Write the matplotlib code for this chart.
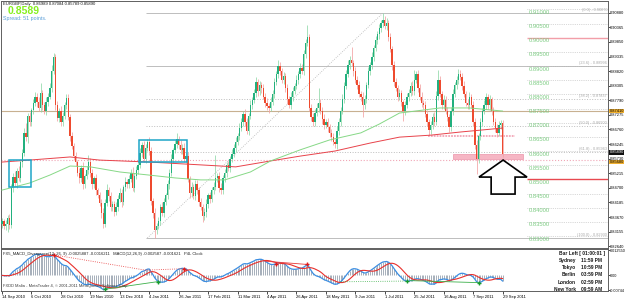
import numpy as np
import pandas as pd
import matplotlib
matplotlib.use('Agg')
import matplotlib.pyplot as plt
import matplotlib.transforms as mtrans
from matplotlib.patches import Rectangle, Polygon

plt.rcParams['font.family'] = ['Liberation Sans', 'DejaVu Sans']

# ---- data (prices in points, 1 point = 0.0001) ----
first_open = 8342
closes = [
    8352, 8334, 8341, 8363, 8338, 8472, 8510, 8488, 8531, 8505,
    8561, 8592, 8664, 8648, 8722, 8701, 8743, 8768, 8791, 8772,
    8752, 8803, 8762, 8741, 8774, 8792, 8824, 8883, 8931, 8762,
    8718, 8742, 8703, 8724, 8763, 8787, 8721, 8652, 8618, 8583,
    8561, 8522, 8503, 8541, 8484, 8512, 8533, 8562, 8521, 8482,
    8503, 8461, 8443, 8418, 8381, 8342, 8418, 8463, 8441, 8402,
    8412, 8383, 8404, 8432, 8452, 8421, 8472, 8491, 8483, 8502,
    8523, 8471, 8512, 8534, 8552, 8593, 8621, 8573, 8612, 8633,
    8601, 8423, 8381, 8322, 8334, 8352, 8401, 8382, 8421, 8443,
    8482, 8523, 8571, 8602, 8624, 8641, 8622, 8603, 8612, 8571,
    8583, 8502, 8451, 8472, 8441, 8483, 8462, 8421, 8402, 8371,
    8383, 8412, 8443, 8431, 8462, 8473, 8503, 8512, 8471, 8462,
    8503, 8521, 8552, 8541, 8572, 8591, 8612, 8633, 8652, 8681,
    8703, 8732, 8701, 8671, 8722, 8762, 8781, 8803, 8842, 8811,
    8833, 8821, 8792, 8771, 8758, 8752, 8773, 8802, 8843, 8872,
    8901, 8882, 8851, 8863, 8821, 8782, 8761, 8792, 8813, 8831,
    8852, 8871, 8893, 8882, 8942, 8983, 9002, 8752, 8721, 8702,
    8733, 8752, 8771, 8742, 8713, 8691, 8702, 8683, 8662, 8651,
    8632, 8623, 8671, 8703, 8742, 8783, 8831, 8872, 8903, 8921,
    8912, 8881, 8852, 8833, 8801, 8792, 8761, 8783, 8832, 8881,
    8902, 8933, 8962, 8991, 9012, 9033, 9051, 9062, 9041, 9052,
    9003, 8961, 8902, 8843, 8822, 8791, 8803, 8772, 8741, 8763,
    8792, 8803, 8831, 8812, 8852, 8871, 8823, 8792, 8771, 8762,
    8731, 8702, 8673, 8692, 8721, 8703, 8793, 8851, 8802, 8763,
    8781, 8742, 8721, 8683, 8742, 8801, 8832, 8851, 8872, 8862,
    8831, 8802, 8771, 8762, 8791, 8762, 8703, 8622, 8571, 8652,
    8702, 8741, 8762, 8791, 8762, 8783, 8741, 8703, 8682, 8663,
    8691, 8699, 8589,
]
upper_wick = [
    12, 9, 15, 11, 14, 10, 13, 18, 9, 16,
    12, 15, 16, 36, 11, 17, 9, 14, 17, 12,
    18, 37, 13, 10, 16, 12, 15, 20, 15, 10,
    14, 9, 18, 12, 11, 15, 13, 10, 16, 12,
    14, 9, 17, 11, 19, 8, 13, 24, 12, 15,
    10, 16, 9, 14, 11, 18, 12, 20, 9, 15,
    13, 10, 17, 12, 16, 14, 9, 18, 11, 15,
    12, 19, 10, 14, 13, 17, 11, 15, 12, 8,
    16, 14, 10, 18, 12, 15, 11, 20, 13, 9,
    14, 12, 17, 10, 15, 23, 11, 16, 13, 18,
    12, 15, 9, 17, 11, 14, 16, 10, 13, 12,
    15, 18, 10, 14, 12, 16, 83, 11, 13, 15,
    12, 17, 10, 14, 9, 16, 12, 15, 11, 18,
    13, 10, 16, 14, 12, 19, 11, 15, 20, 12,
    14, 10, 17, 12, 15, 11, 18, 13, 16, 12,
    19, 14, 10, 16, 12, 15, 11, 17, 13, 9,
    15, 12, 18, 14, 16, 13, 43, 10, 15, 12,
    14, 17, 50, 11, 13, 16, 10, 15, 12, 14,
    11, 9, 16, 13, 15, 18, 12, 14, 17, 13,
    45, 11, 15, 12, 14, 10, 16, 13, 12, 17,
    11, 15, 13, 16, 12, 14, 10, 25, 15, 18,
    12, 14, 10, 16, 13, 11, 15, 12, 9, 14,
    13, 16, 12, 15, 34, 11, 14, 12, 16, 10,
    13, 15, 11, 14, 12, 16, 18, 35, 13, 10,
    15, 12, 14, 11, 13, 17, 12, 15, 16, 14,
    12, 15, 10, 13, 18, 11, 14, 12, 16, 13,
    15, 12, 17, 14, 11, 16, 8, 13, 12, 15,
    14, 10, 9,
]
lower_wick = [
    14, 11, 13, 27, 12, 10, 15, 12, 17, 11,
    13, 16, 10, 12, 18, 11, 14, 13, 10, 15,
    12, 14, 17, 11, 13, 16, 10, 14, 12, 17,
    11, 15, 13, 16, 10, 14, 12, 18, 11, 15,
    13, 10, 16, 12, 18, 14, 11, 15, 13, 17,
    12, 15, 10, 13, 16, 14, 12, 11, 17, 13,
    15, 12, 10, 16, 13, 17, 11, 14, 12, 15,
    10, 13, 16, 12, 14, 11, 15, 13, 17, 12,
    14, 13, 18, 29, 15, 11, 14, 12, 16, 13,
    11, 15, 12, 14, 10, 13, 16, 12, 15, 11,
    14, 12, 17, 13, 10, 15, 12, 14, 11, 22,
    13, 16, 12, 15, 11, 14, 10, 13, 17, 12,
    15, 11, 14, 12, 16, 10, 13, 15, 12, 14,
    11, 16, 13, 12, 15, 10, 14, 13, 11, 16,
    12, 15, 10, 14, 13, 17, 11, 12, 15, 10,
    13, 14, 11, 16, 12, 15, 10, 13, 14, 11,
    12, 15, 13, 10, 14, 12, 11, 12, 16, 13,
    15, 11, 14, 12, 16, 13, 10, 15, 12, 14,
    11, 12, 16, 13, 15, 10, 14, 12, 11, 15,
    13, 16, 12, 14, 10, 15, 41, 12, 13, 11,
    14, 12, 15, 10, 13, 16, 12, 14, 11, 15,
    13, 12, 16, 14, 11, 15, 12, 13, 35, 14,
    12, 15, 10, 13, 14, 11, 16, 12, 15, 13,
    11, 14, 16, 12, 15, 13, 10, 14, 12, 16,
    13, 11, 15, 16, 12, 14, 10, 13, 15, 12,
    14, 11, 13, 12, 15, 10, 16, 14, 52, 12,
    13, 15, 11, 14, 12, 16, 13, 10, 14, 12,
    11, 13, 10,
]

date_labels = ['14 Sep 2010', '6 Oct 2010', '28 Oct 2010', '19 Nov 2010', '13 Dec 2010',
               '4 Jan 2011', '26 Jan 2011', '17 Feb 2011', '11 Mar 2011', '4 Apr 2011',
               '26 Apr 2011', '18 May 2011', '9 Jun 2011', '1 Jul 2011', '25 Jul 2011',
               '16 Aug 2011', '7 Sep 2011', '29 Sep 2011']
bars_per_label = 16

# moving averages
slow_ma_bars = [0, 15, 37, 53, 80, 108, 127, 146, 162, 181, 200, 216, 233, 249, 272]
slow_ma = [0.8561, 0.8568, 0.8579, 0.8568, 0.8561, 0.8551, 0.8544, 0.8565, 0.8582,
           0.8600, 0.8628, 0.8649, 0.8656, 0.8667, 0.8681]
fast_ma_bars = [0, 15, 26, 37, 48, 64, 80, 94, 108, 121, 135, 146, 162, 178, 195,
                205, 216, 238, 254, 272]
fast_ma = [0.8462, 0.8487, 0.8515, 0.8547, 0.8544, 0.8526, 0.8515, 0.8505, 0.8498,
           0.8498, 0.8526, 0.8565, 0.8604, 0.8639, 0.8664, 0.8695, 0.8734, 0.8752,
           0.8752, 0.8741]

price_ticks = [0.90880, 0.90365, 0.89850, 0.89335, 0.88820, 0.88305, 0.87790, 0.87275,
               0.86760, 0.86245, 0.85730, 0.85215, 0.84700, 0.84185, 0.83670, 0.83155,
               0.82640]
round_levels = [0.910, 0.905, 0.900, 0.895, 0.890, 0.885, 0.880, 0.875, 0.870, 0.865,
                0.860, 0.855, 0.850, 0.845, 0.840, 0.835, 0.830]
red_levels = [0.900, 0.850]
fib_ratios = [0.0, 23.6, 38.2, 50.0, 61.8, 100.0]
fib_low = (79, 0.8293)
fib_high = (207, 0.9087)
tan_line = 0.8741
pink_line = 0.8568
support_line = (231.5, 278.8, 0.8653)
zone = (245, 283, 0.8572, 0.8589)
boxes = [(3.8, 15.8, 0.8473, 0.8568), (74.5, 100.5, 0.8561, 0.8639)]
arrow_pts = [(272.3, 0.8568), (259.2, 0.8508), (265.8, 0.8508), (265.8, 0.8448),
             (278.8, 0.8448), (278.8, 0.8508), (285.3, 0.8508)]
bid = 0.8589

red_marks = [28, 99, 149, 166]
green_marks = [56, 85, 220, 259]
red_div = [(28, 78, ':'), (78, 99, ':'), (143, 166, '-')]
green_div = [(56, 85, '-'), (184, 220, ':'), (222, 259, '-')]

clock_rows = [('Sydney', '11:59 PM'), ('Tokyo', '10:59 PM'), ('Berlin', '03:59 PM'),
              ('London', '02:59 PM'), ('New York', '09:59 AM')]

# ---- build series ----
c = np.array(closes) / 1e4
o = np.r_[first_open / 1e4, c[:-1]]          # daily forex bars open at prior close
h = np.maximum(o, c) + np.array(upper_wick) / 1e4
l = np.minimum(o, c) - np.array(lower_wick) / 1e4
x = np.arange(len(c))

s = pd.Series(c)
macd = (s.ewm(span=12, adjust=False).mean() - s.ewm(span=26, adjust=False).mean()).values
signal = pd.Series(macd).rolling(9, min_periods=1).mean().values

W, H = 625, 300
fig = plt.figure(figsize=(W / 100, H / 100), dpi=100)
def fx(px): return px / W
def fy(py): return 1 - py / H

ax = fig.add_axes([fx(1), fy(247.5), fx(607), (247.5 - 1) / H])
ax2 = fig.add_axes([fx(1), fy(291), fx(607), 42 / H])
xlim = (-0.54, 329.3)

# candles
up = c >= o
ax.vlines(x[up], l[up], h[up], color='#8fd8a8', lw=0.55, zorder=3)
ax.vlines(x[~up], l[~up], h[~up], color='#f2a2a2', lw=0.55, zorder=3)
body = np.maximum(np.abs(c - o), 0.00012)
ax.bar(x[up], body[up], bottom=o[up], width=0.75, color='#22b07e', lw=0, zorder=4)
ax.bar(x[~up], body[~up], bottom=c[~up], width=0.75, color='#ee4a2e', lw=0, zorder=4)

ax.plot(slow_ma_bars, slow_ma, color='#e8424a', lw=0.7, zorder=5)
ax.plot(fast_ma_bars, fast_ma, color='#86d886', lw=0.7, zorder=5)

# horizontal lines
ax.axhline(tan_line, color='#c8b090', lw=0.8, zorder=2)
ax.axhline(pink_line, color='#f0a6b6', lw=0.8, ls=':', zorder=2)
ax.hlines(support_line[2], support_line[0], support_line[1], color='#f2a6b6', lw=1.3,
          ls=(0, (1, 0.6)), zorder=2)
ax.add_patch(Rectangle((zone[0], zone[2]), zone[1] - zone[0], zone[3] - zone[2],
                       facecolor='#f6b6c4', edgecolor='#ec94aa', lw=0.5, zorder=2))

# fibonacci
rng = fib_high[1] - fib_low[1]
ax.plot([fib_low[0], fib_high[0]], [fib_low[1], fib_high[1]], color='#b4b4b4', lw=0.6,
        ls=':', zorder=2)
for r in fib_ratios:
    p = fib_high[1] - rng * r / 100
    ls = '-' if r in (0.0, 23.6, 100.0) else ':'
    ax.hlines(p, fib_low[0] - 1, xlim[1], color='#bdbdbd', lw=0.7, ls=ls, zorder=2)
    ax.text(xlim[1] - 0.5, p + 0.0003, '(%.1f) - %.5f' % (r, p), fontsize=2.8,
            color='#a8a8a8', ha='right', va='bottom', zorder=6)

# round price levels at the right
for lev in round_levels:
    if lev in red_levels:
        col = '#f29ea8' if lev > 0.88 else '#e84850'
        ax.hlines(lev, 285.5, xlim[1], color=col, lw=1.0, zorder=2)
    else:
        ax.hlines(lev, 285.5, xlim[1], color='#b4b4b4', lw=0.5, ls=':', zorder=2)
    ax.text(286, lev - 0.0002, '%.5f' % lev, fontsize=4.2, color='#7ccc82',
            ha='left', va='top', zorder=6)

for x0, x1, y0, y1 in boxes:
    ax.add_patch(Rectangle((x0, y0), x1 - x0, y1 - y0, fill=False,
                           edgecolor='#1ea6c8', lw=1.1, zorder=6))

ax.add_patch(Polygon(arrow_pts, closed=True, facecolor='white', edgecolor='black',
                     lw=1.2, zorder=7))

ax.set_xlim(*xlim)
ax.set_ylim(0.82594, 0.91295)
ax.set_xticks([])
ax.yaxis.tick_right()
ax.set_yticks(price_ticks)
ax.set_yticklabels(['%.5f' % t for t in price_ticks])
ax.tick_params(axis='y', labelsize=2.9, length=1.2, width=0.5, pad=0.3)

# right-axis price boxes (label shows the line price, box nudged so they stack)
tr = mtrans.blended_transform_factory(ax.transAxes, ax.transData)
for p, shift, fc, tc in [(tan_line, 0.0, '#f0b030', 'black'),
                         (pink_line, -0.0007, '#f0b030', 'black'),
                         (bid, 0.0006, '#101010', 'white')]:
    ax.text(1.0025, p + shift, '%.5f' % p, transform=tr, fontsize=2.9, color=tc,
            va='center', ha='left', zorder=8, clip_on=False,
            bbox=dict(boxstyle='square,pad=0.1', fc=fc, ec='none'))

for a in (ax, ax2):
    for sp in a.spines.values():
        sp.set_color('#606060')
        sp.set_linewidth(0.7)

# ---- MACD pane ----
ax2.vlines(x, 0, macd, color='#8e9aa8', lw=0.55, zorder=2)
ax2.plot(x, macd, color='#3c8ee2', lw=0.9, zorder=3)
ax2.plot(x, signal, color='#e8302c', lw=0.8, zorder=4)
for b0, b1, ls in red_div:
    ax2.plot([b0, b1], [macd[b0], macd[b1]], color='#e83a3a', lw=0.6, ls=ls, zorder=5)
for b0, b1, ls in green_div:
    ax2.plot([b0, b1], [macd[b0], macd[b1]], color='#3cb04a', lw=0.6, ls=ls, zorder=5)
ax2.plot(red_marks, macd[red_marks], ls='none', marker='+', ms=3.5, mew=1.0,
         color='#e01c1c', zorder=6)
ax2.plot(green_marks, macd[green_marks], ls='none', marker='+', ms=3.5, mew=1.0,
         color='#159a2c', zorder=6)

ax2.set_xlim(*xlim)
ax2.set_ylim(-0.0078, 0.0132)
ax2.yaxis.tick_right()
ax2.set_yticks([0.01255, 0.0, -0.00744])
ax2.set_yticklabels(['0.012550', '0.00', '-0.00744'])
ax2.tick_params(axis='y', labelsize=2.7, length=1.2, width=0.5, pad=0.3)
ax2.set_xticks(np.arange(len(date_labels)) * bars_per_label)
ax2.set_xticklabels(date_labels, ha='left')
ax2.tick_params(axis='x', labelsize=3.0, length=2, width=0.5, pad=0.8)

ax2.text(0.5, 0.0108,
         'FX5_MACD_Divergence(12, 26, 9) -0.0025887 -0.0016211   MACD(12,26,9) -0.002587 -0.001621   P4L Clock',
         fontsize=3.0, color='#202020', va='center', zorder=7)
ax2.text(0.5, -0.0055, 'FXDD Malta - MetaTrader 4, \u00a9 2001-2011 MetaQuotes Software Corp.',
         fontsize=2.9, color='#3c3c3c', va='center', zorder=7)

# clock block
fig.text(fx(605), fy(253), 'Bar Left [ 01:00:01 ]', fontsize=3.5, fontweight='bold',
         ha='right', va='center', color='#1a1a1a')
for i, (city, t) in enumerate(clock_rows):
    yy = 260.5 + i * 7.2
    fig.text(fx(576), fy(yy), city, fontsize=3.5, fontweight='bold', ha='right',
             va='center', color='#1a1a1a')
    fig.text(fx(581), fy(yy), t, fontsize=3.5, fontweight='bold', ha='left',
             va='center', color='#1a1a1a')

# header
fig.text(fx(3), fy(4.5), 'EURGBP,Daily  0.86989 0.87084 0.85789 0.85890', fontsize=3.0,
         va='center', color='#111111')
fig.text(fx(8), fy(11), '0.8589', fontsize=7.5, fontweight='bold', va='center',
         color='#86f01e')
fig.text(fx(3), fy(18.5), 'Spread: 51 points.', fontsize=3.8, va='center',
         color='#5a9ed8')

fig.savefig('out.png', dpi=100)
